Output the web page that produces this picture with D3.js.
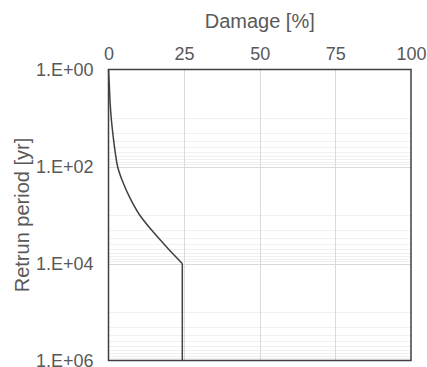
<!DOCTYPE html>
<html>
<head>
<meta charset="utf-8">
<script src="https://cdn.jsdelivr.net/npm/d3@7"></script>
<style>
  html, body { margin: 0; padding: 0; background: #fff; }
  svg { display: block; }
  text { font-family: "Liberation Sans", Arial, sans-serif; fill: #595959; }
</style>
</head>
<body>
<svg id="chart" width="427" height="367"></svg>
<script>
// ---- data ----
const returnPeriods = [1, 2, 5, 10, 20, 50, 100, 200, 500, 1000, 2000, 5000, 10000];
const damageValues  = [0, 0.25, 0.55, 0.9, 1.4, 2.2, 3.0, 4.6, 7.5, 10.3, 14.1, 19.8, 24.4];
const tailReturnPeriod = 1e6;           // vertical segment continues to this return period
const xTickValues = [0, 25, 50, 75, 100];
const yTickValues = [1, 1e2, 1e4, 1e6];
const yTickLabels = ["1.E+00", "1.E+02", "1.E+04", "1.E+06"];
const xTitle = "Damage [%]";
const yTitle = "Retrun period [yr]";

// ---- layout ----
const svg = d3.select("#chart");
const pL = 108.5, pT = 69.5, pR = 411, pB = 360.5;

const x = d3.scaleLinear().domain([0, 100]).range([pL, pR]);
const y = d3.scaleLog().domain([1, 1e6]).range([pT, pB]);

// minor gridlines: m * 10^(2k+1), m = 1..9, within each 2-decade block
const minorGrid = [];
for (let k = 0; k < 3; k++) {
  for (let m = 1; m <= 9; m++) minorGrid.push(m * Math.pow(10, 2 * k + 1));
}
svg.append("g").selectAll("line").data(minorGrid).join("line")
  .attr("x1", pL).attr("x2", pR)
  .attr("y1", d => Math.round(y(d)) + 0.5).attr("y2", d => Math.round(y(d)) + 0.5)
  .attr("stroke", "#f0f0f0").attr("stroke-width", 1);

// major horizontal gridlines
svg.append("g").selectAll("line").data(yTickValues.slice(1, -1)).join("line")
  .attr("x1", pL).attr("x2", pR)
  .attr("y1", d => Math.round(y(d)) + 0.5).attr("y2", d => Math.round(y(d)) + 0.5)
  .attr("stroke", "#d9d9d9").attr("stroke-width", 1);

// vertical gridlines
svg.append("g").selectAll("line").data(xTickValues.slice(1, -1)).join("line")
  .attr("x1", d => Math.round(x(d)) + 0.5).attr("x2", d => Math.round(x(d)) + 0.5)
  .attr("y1", pT).attr("y2", pB)
  .attr("stroke", "#d9d9d9").attr("stroke-width", 1);

// data line
const pts = returnPeriods.map((rp, i) => [damageValues[i], rp]);
const line = d3.line().x(d => x(d[0])).y(d => y(d[1])).curve(d3.curveMonotoneY);
svg.append("path").attr("d", line(pts))
  .attr("fill", "none").attr("stroke", "#404040").attr("stroke-width", 1.5);
const last = pts[pts.length - 1];
svg.append("path").attr("d", d3.line().x(d => x(d[0])).y(d => y(d[1]))([last, [last[0], tailReturnPeriod]]))
  .attr("fill", "none").attr("stroke", "#404040").attr("stroke-width", 1.5);

// plot border
svg.append("rect").attr("x", pL).attr("y", pT)
  .attr("width", pR - pL).attr("height", pB - pT)
  .attr("fill", "none").attr("stroke", "#404040").attr("stroke-width", 1.5);

// x axis (top)
const xAxis = svg.append("g").attr("transform", `translate(0,${pT})`)
  .call(d3.axisTop(x).tickValues(xTickValues).tickSize(0).tickPadding(10).tickFormat(d3.format("d")));
xAxis.select(".domain").remove();
xAxis.selectAll("text").attr("font-size", 18).attr("fill", "#595959")
  .style("font-family", '"Liberation Sans", Arial, sans-serif');

// y axis (left)
const yAxis = svg.append("g").attr("transform", `translate(${pL},0)`)
  .call(d3.axisLeft(y).tickValues(yTickValues).tickSize(0).tickPadding(15)
    .tickFormat((d, i) => yTickLabels[i]));
yAxis.select(".domain").remove();
yAxis.selectAll("text").attr("font-size", 18).attr("fill", "#595959")
  .style("font-family", '"Liberation Sans", Arial, sans-serif');

// titles
svg.append("text").attr("x", (pL + pR) / 2).attr("y", 28)
  .attr("text-anchor", "middle").attr("font-size", 20).text(xTitle);
svg.append("text").attr("transform", `translate(29,${(pT + pB) / 2}) rotate(-90)`)
  .attr("text-anchor", "middle").attr("font-size", 20).text(yTitle);
</script>
</body>
</html>
